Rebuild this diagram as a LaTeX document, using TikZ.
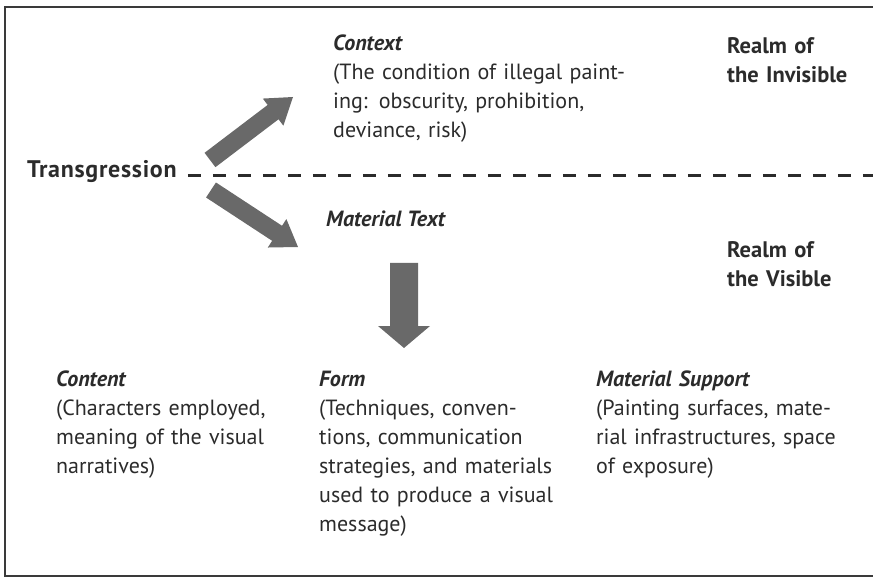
\documentclass[tikz,border=0pt]{standalone}
\usepackage{fontspec}
\setmainfont{PT Sans}
\usetikzlibrary{calc}
\definecolor{txt}{HTML}{2B2B2B}
\definecolor{arrowgray}{HTML}{696969}
\definecolor{framegray}{HTML}{3A3A3A}
\tikzset{
  lbl/.style={anchor=base west, inner sep=0pt, text=txt, text width=330pt, align=left,
    font=\fontsize{22}{29}\selectfont},
  realm/.style={lbl, font=\fontsize{22.5}{29}\selectfont\bfseries},
  hd/.style={anchor=base west, inner sep=0pt, text=txt,
    font=\fontsize{22}{29}\selectfont\bfseries\itshape},
  bighd/.style={anchor=base west, inner sep=0pt, text=txt,
    font=\fontsize{24}{29}\selectfont\bfseries\addfontfeatures{LetterSpace=3}},
  blockarrow/.style={fill=arrowgray},
  dashline/.style={draw=txt, line width=3pt, dash pattern=on 13pt off 12pt},
  frame/.style={draw=framegray, line width=2.5pt}
}
\begin{document}
\begin{tikzpicture}[x=1pt,y=-1pt]
\useasboundingbox (0,0) rectangle (873,580);
\clip (0,0) rectangle (873,580);
\draw[frame] (5,7) rectangle (890,576);

% texts
\node[lbl] (ctx) at (333,51) {\textbf{\textit{Context}}\\(The condition of illegal paint-\\ing: obscurity, prohibition,\\deviance, risk)};
\node[realm] (inv) at (727,54) {Realm of\\the Invisible};
\node[bighd] (trans) at (27,178) {Transgression};
\node[hd] (mt) at (326,227) {Material Text};
\node[realm] (vis) at (727,258) {Realm of\\the Visible};
\node[lbl] (content) at (56,386) {\textbf{\textit{Content}}\\(Characters employed,\\meaning of the visual\\narratives)};
\node[lbl] (form) at (319,386) {\textbf{\textit{Form}}\\(Techniques, conven-\\tions, communication\\strategies, and materials\\used to produce a visual\\message)};
\node[lbl] (support) at (596,386) {\textbf{\textit{Material Support}}\\(Painting surfaces, mate-\\rial infrastructures, space\\of exposure)};

% dashed divider
\coordinate (dashend) at (873,176);
\draw[dashline] ([shift={(11,-2)}]trans.base east) -- (dashend);

% block arrows
\coordinate (a1) at (210,160);
\coordinate (b1) at (293,97);
\coordinate (h1) at ($(b1)!25pt!(a1)$);
\fill[blockarrow] ($(a1)!9pt!90:(b1)$) -- ($(h1)!9pt!-90:(a1)$) -- ($(h1)!17pt!-90:(a1)$) -- (b1)
  -- ($(h1)!17pt!90:(a1)$) -- ($(h1)!9pt!90:(a1)$) -- ($(a1)!9pt!-90:(b1)$) -- cycle;

\coordinate (a2) at (211,190);
\coordinate (b2) at (298,247);
\coordinate (h2) at ($(b2)!25pt!(a2)$);
\fill[blockarrow] ($(a2)!9pt!90:(b2)$) -- ($(h2)!9pt!-90:(a2)$) -- ($(h2)!17pt!-90:(a2)$) -- (b2)
  -- ($(h2)!17pt!90:(a2)$) -- ($(h2)!9pt!90:(a2)$) -- ($(a2)!9pt!-90:(b2)$) -- cycle;

\coordinate (a3) at (404,263);
\coordinate (b3) at (404,348);
\coordinate (h3) at ($(b3)!22pt!(a3)$);
\fill[blockarrow] ($(a3)!14pt!90:(b3)$) -- ($(h3)!14pt!-90:(a3)$) -- ($(h3)!26pt!-90:(a3)$) -- (b3)
  -- ($(h3)!26pt!90:(a3)$) -- ($(h3)!14pt!90:(a3)$) -- ($(a3)!14pt!-90:(b3)$) -- cycle;
\end{tikzpicture}
\end{document}
